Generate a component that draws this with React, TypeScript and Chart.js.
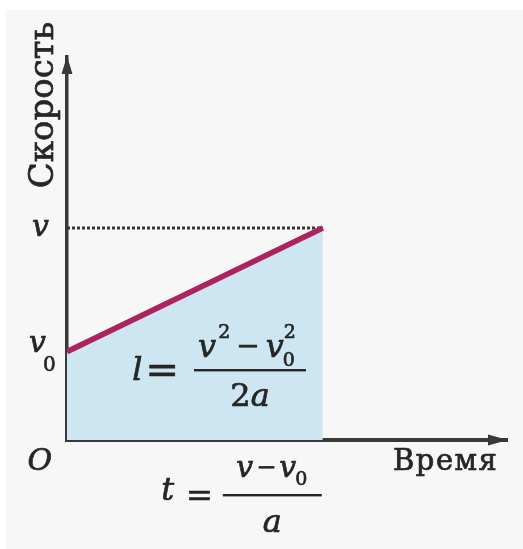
import { useEffect, useRef } from "react";
import { Chart, registerables } from "chart.js";

Chart.register(...registerables);

// Uniformly accelerated motion: speed grows linearly from v0 to v over time t.
const TIME = [0, 1]; // start, t = (v − v0) / a
const SPEED = [2.5, 6]; // v0, v
const TIME_AXIS_MAX = 1.72;
const SPEED_AXIS_MAX = 10.84;
const Y_AXIS_TITLE = "Скорость";
const X_AXIS_TITLE = "Время";

const WIDTH = 523;
const HEIGHT = 549;
const INK = "#262626";
const AXIS = "#383838";
const SERIF = '"DejaVu Serif", serif';
const it = (s: number) => `italic ${s}px ${SERIF}`;
const rm = (s: number) => `${s}px ${SERIF}`;

function measure(ctx: CanvasRenderingContext2D, s: string, font: string) {
  ctx.font = font;
  return ctx.measureText(s).width;
}

// Text with a hairline stroke so the print looks as heavy as a textbook figure.
function put(
  ctx: CanvasRenderingContext2D,
  s: string,
  font: string,
  x: number,
  y: number,
  align: CanvasTextAlign = "left"
) {
  ctx.font = font;
  ctx.textAlign = align;
  ctx.fillText(s, x, y);
  ctx.strokeText(s, x, y);
  return ctx.measureText(s).width;
}

const paperPlugin = {
  id: "paper",
  beforeDraw(chart: Chart) {
    const ctx = chart.ctx;
    ctx.save();
    ctx.fillStyle = "#ffffff";
    ctx.fillRect(0, 0, chart.width, chart.height);
    ctx.fillStyle = "#f7f7f7";
    ctx.fillRect(6, 10, chart.width - 6, chart.height - 10);
    ctx.restore();
  },
};

const annotationsPlugin = {
  id: "annotations",
  afterDraw(chart: Chart) {
    const ctx = chart.ctx;
    const xs = chart.scales.x;
    const ys = chart.scales.y;
    const x0 = xs.getPixelForValue(0);
    const y0 = ys.getPixelForValue(0);
    const xT = xs.getPixelForValue(TIME[1]);
    const yV0 = ys.getPixelForValue(SPEED[0]);
    const yV = ys.getPixelForValue(SPEED[1]);
    const { top, right } = chart.chartArea;

    ctx.save();
    ctx.fillStyle = AXIS;

    // arrowheads
    ctx.beginPath();
    ctx.moveTo(x0, top - 1);
    ctx.lineTo(x0 - 5.5, top + 17);
    ctx.lineTo(x0 + 5.5, top + 17);
    ctx.closePath();
    ctx.fill();
    ctx.beginPath();
    ctx.moveTo(right + 1, y0);
    ctx.lineTo(right - 19, y0 - 5.5);
    ctx.lineTo(right - 19, y0 + 5.5);
    ctx.closePath();
    ctx.fill();

    ctx.fillStyle = INK;
    ctx.strokeStyle = INK;
    ctx.lineWidth = 0.7;
    ctx.textBaseline = "alphabetic";

    // axis titles
    ctx.save();
    ctx.translate(x0 - 14, top + 48);
    ctx.rotate(-Math.PI / 2);
    put(ctx, Y_AXIS_TITLE, rm(34), 0, 0, "center");
    ctx.restore();
    ctx.save();
    ctx.letterSpacing = "1.5px";
    put(ctx, X_AXIS_TITLE, rm(29), right - 114, y0 + 30);
    ctx.restore();

    // value marks on the speed axis and origin
    put(ctx, "v", it(30), x0 - 18, yV + 8, "right");
    put(ctx, "v", it(30), x0 - 21, yV0, "right");
    put(ctx, "0", rm(20), x0 - 24, yV0 + 19);
    put(ctx, "O", it(30), x0 - 15, y0 + 30, "right");

    // l = (v² − v0²) / 2a inside the shaded area
    {
      const barL = x0 + 127;
      const barR = x0 + 239;
      const barY = y0 - 70;
      ctx.fillRect(barL, barY - 1, barR - barL, 2.4);
      const nb = barY - 13;
      const vw = measure(ctx, "v", it(32));
      const sw = measure(ctx, "2", rm(19));
      const mw = measure(ctx, "−", rm(28));
      const gap = 6;
      const total = vw + sw + gap + mw + gap + vw + sw;
      let x = (barL + barR) / 2 - total / 2 - 4;
      x += put(ctx, "v", it(32), x, nb) + 2;
      put(ctx, "2", rm(19), x, nb - 19);
      x += sw + gap;
      x += put(ctx, "−", rm(28), x, nb - 2) + gap;
      x += put(ctx, "v", it(32), x, nb);
      put(ctx, "2", rm(19), x, nb - 19);
      put(ctx, "0", rm(19), x - 1, nb + 9);

      const dw = measure(ctx, "2", rm(32)) + measure(ctx, "a", it(32));
      let dx = (barL + barR) / 2 - dw / 2;
      dx += put(ctx, "2", rm(32), dx, barY + 36);
      put(ctx, "a", it(32), dx, barY + 36);

      const eqR = barL - 15;
      const ew = put(ctx, "=", rm(40), eqR, barY + 13, "right");
      put(ctx, "l", it(32), eqR - ew - 3, barY + 10, "right");
    }

    // t = (v − v0) / a under the time axis
    {
      const barR = xT - 1;
      const barL = xT - 100;
      const barY = y0 + 55;
      ctx.fillRect(barL, barY - 1, barR - barL, 2.4);
      const nb = barY - 18;
      const vw = measure(ctx, "v", it(30));
      const mw = measure(ctx, "−", rm(24));
      const zw = measure(ctx, "0", rm(19));
      const gap = 3;
      const total = vw + gap + mw + gap + vw + zw;
      let x = (barL + barR) / 2 - total / 2;
      x += put(ctx, "v", it(30), x, nb) + gap;
      x += put(ctx, "−", rm(24), x, nb - 2) + gap;
      x += put(ctx, "v", it(30), x, nb) - 1;
      put(ctx, "0", rm(19), x, nb + 8);

      put(ctx, "a", it(32), (barL + barR) / 2, barY + 37, "center");

      const eqR = barL - 10;
      const ew = put(ctx, "=", rm(32), eqR, barY + 11, "right");
      put(ctx, "t", it(32), eqR - ew - 12, barY + 5, "right");
    }

    ctx.restore();
  },
};

export default function App() {
  const canvasRef = useRef<HTMLCanvasElement | null>(null);

  useEffect(() => {
    const canvas = canvasRef.current;
    if (!canvas) return;

    const speedLine = TIME.map((t, i) => ({ x: t, y: SPEED[i] }));
    const finalSpeed = TIME.map((t) => ({ x: t, y: SPEED[SPEED.length - 1] }));

    const chart = new Chart(canvas, {
      type: "line",
      data: {
        datasets: [
          {
            data: speedLine,
            borderColor: "#ad245c",
            borderWidth: 5.5,
            backgroundColor: "#cde6f1",
            fill: "origin",
            pointRadius: 0,
            tension: 0,
            order: 1,
          },
          {
            data: finalSpeed,
            borderColor: "#363636",
            borderWidth: 3,
            borderDash: [3, 2],
            fill: false,
            pointRadius: 0,
            order: 2,
          },
        ],
      },
      options: {
        animation: false,
        responsive: false,
        events: [],
        layout: { padding: { left: 59, top: 57, right: 16, bottom: 101 } },
        plugins: {
          legend: { display: false },
          tooltip: { enabled: false },
        },
        scales: {
          x: {
            type: "linear",
            min: 0,
            max: TIME_AXIS_MAX,
            z: 1,
            grid: { display: false },
            ticks: { display: false },
            border: { display: true, color: AXIS, width: 4 },
          },
          y: {
            type: "linear",
            min: 0,
            max: SPEED_AXIS_MAX,
            z: 1,
            grid: { display: false },
            ticks: { display: false },
            border: { display: true, color: AXIS, width: 3.5 },
          },
        },
      },
      plugins: [paperPlugin, annotationsPlugin],
    });

    return () => chart.destroy();
  }, []);

  return (
    <div style={{ position: "fixed", left: 0, top: 0, width: WIDTH, height: HEIGHT }}>
      <canvas ref={canvasRef} width={WIDTH} height={HEIGHT} />
    </div>
  );
}
